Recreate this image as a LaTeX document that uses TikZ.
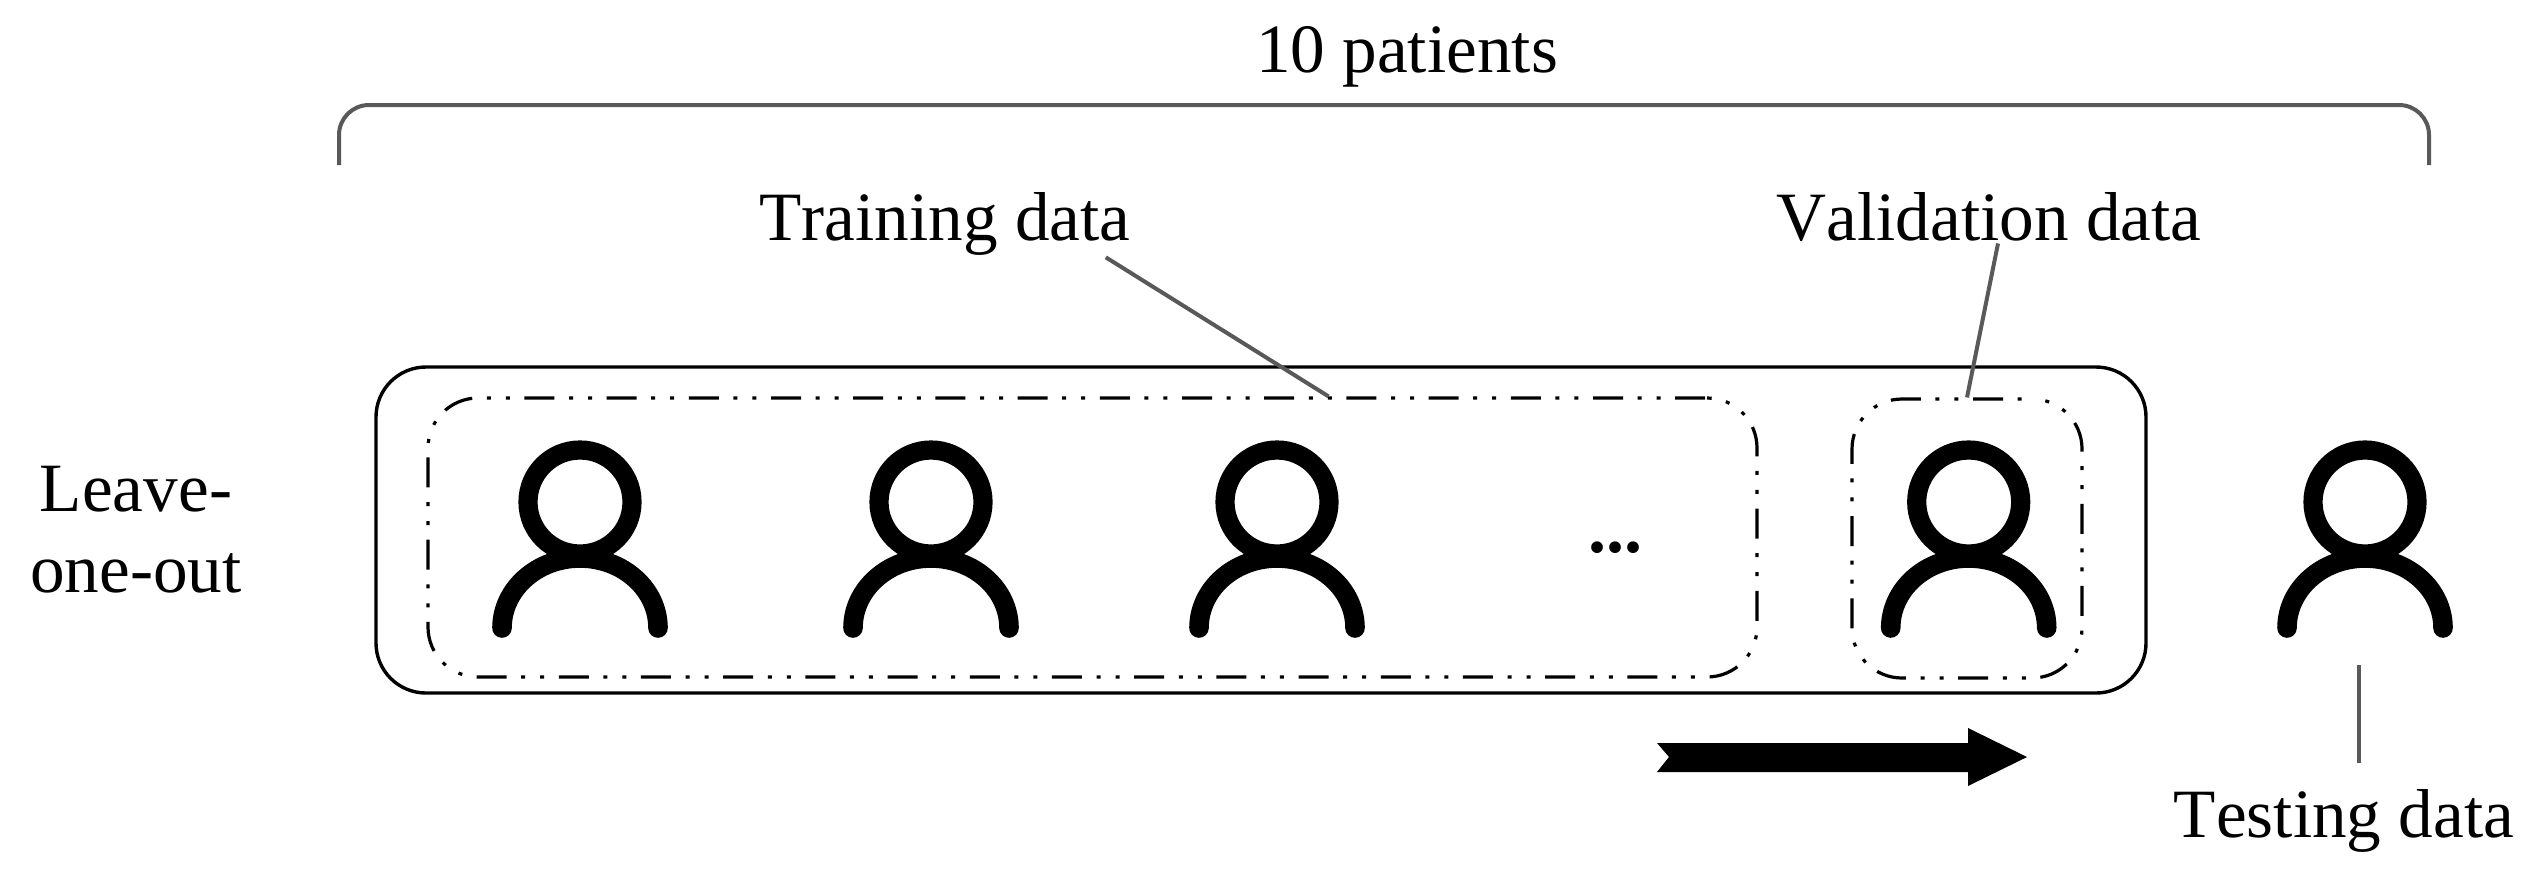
\documentclass[tikz,border=0pt]{standalone}
\usepackage{fontspec}
\setmainfont[Kerning=Off]{Liberation Serif}
\definecolor{leadgray}{HTML}{595959}

\begin{document}
\begin{tikzpicture}[x=0.5pt,y=-0.5pt]
\tikzstyle{every node}=[inner sep=0pt,font=\fontsize{34.6}{40.5}\selectfont];
\tikzstyle{label}=[anchor=base];
\tikzstyle{outerbox}=[draw,rectangle,line width=1.7pt,rounded corners=25pt];
\tikzstyle{foldbox}=[draw,rectangle,line width=1.6pt,rounded corners=25pt,
    dash pattern=on 15pt off 7.3pt on 2pt off 7.5pt on 2pt off 7.3pt];
\tikzstyle{head}=[draw,circle,line width=9.6pt,minimum size=52pt];
\tikzstyle{body}=[line width=9.8pt,line cap=round];
\tikzstyle{leader}=[leadgray,line width=2pt];
\useasboundingbox (0,0) rectangle (2536,869);
% draw labels
    \node[label] (total) at (1407,72) {10 patients};
    \node[label] (train) at (945,240) {Training data};
    \node[label] (valid) at (1989,240) {Validation data};
    \node[label] (test) at (2344,837) {Testing data};
    \node[align=center] (loo) at (136,530) {Leave-\\one-out};
%   boxes
    \node[outerbox,minimum width=885pt,minimum height=163pt] (all) at (1261,530) {};
    \node[foldbox,dash phase=40.2pt,minimum width=664.5pt,minimum height=139.5pt] (trainbox) at (1092.5,537.5) {};
    \node[foldbox,dash phase=26.6pt,minimum width=115pt,minimum height=139.5pt] (validbox) at (1967,538.5) {};
%   patients
    \foreach \x/\n in {580/1,931/2,1277/3,1968.7/4,2365/5} {
        \node[head] (head\n) at (\x,502) {};
        \draw[body] (\x-78,628) arc[start angle=180,end angle=0,x radius=39pt,y radius=35pt];
    }
    \node[font=\fontsize{36}{40}\selectfont\bfseries,anchor=base] (dots) at (1615,552) {...};
%   bracket over all patients
    \draw[leader,rounded corners=15pt] (339,165) -- (339,105) -- (2429,105) -- (2429,165);
%   edges
    \coordinate (testtop) at (2359,665);
    \draw[leader] ([xshift=-12.5pt,yshift=-1pt]train.south east) -- ([xshift=118pt]trainbox.north);
    \draw[leader] ([xshift=4.5pt,yshift=-1pt]valid.south) -- (validbox.north);
    \draw[leader] (testtop) -- ([xshift=7.5pt,yshift=13pt]test.north);
%   arrow
    \fill (1657,743) -- (1968,743) -- (1968,728) -- (2027,757) -- (1968,786)
        -- (1968,772) -- (1657,772) -- (1669,757) -- cycle;
\end{tikzpicture}
\end{document}
